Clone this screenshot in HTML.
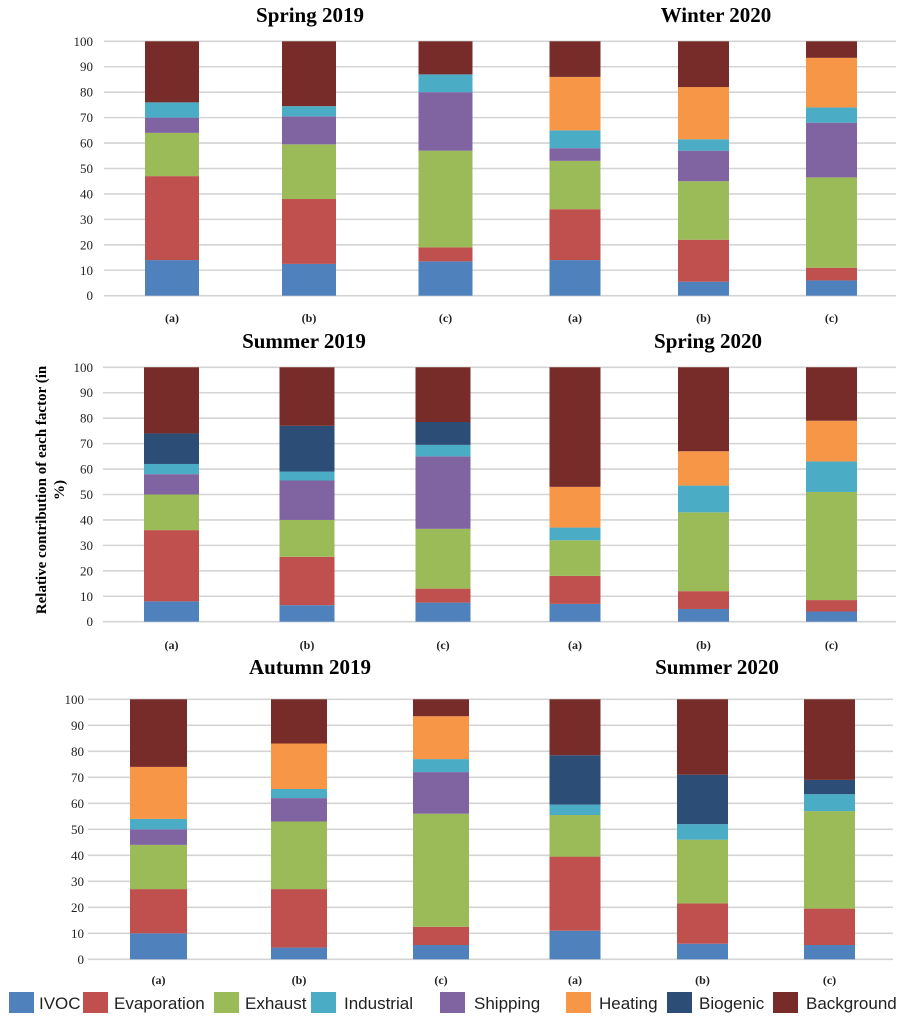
<!DOCTYPE html>
<html><head><meta charset="utf-8"><style>
html,body{margin:0;padding:0;background:#fff;}
svg{display:block;}
.t{font-family:"Liberation Serif",serif;font-weight:bold;font-size:21px;fill:#000;}
.tk{font-family:"Liberation Serif",serif;font-size:13px;fill:#222;}
.cl{font-family:"Liberation Serif",serif;font-weight:bold;font-size:12px;fill:#222;}
.lg{font-family:"Liberation Sans",sans-serif;font-size:17px;fill:#222;}
</style></head><body>
<svg id="chart" width="906" height="1023" viewBox="0 0 906 1023" xmlns="http://www.w3.org/2000/svg">
<text class="t" x="310" y="22" text-anchor="middle">Spring 2019</text>
<text class="t" x="716" y="22" text-anchor="middle">Winter 2020</text>
<text class="t" x="304" y="348" text-anchor="middle">Summer 2019</text>
<text class="t" x="708" y="348" text-anchor="middle">Spring 2020</text>
<text class="t" x="310" y="674" text-anchor="middle">Autumn 2019</text>
<text class="t" x="717" y="674" text-anchor="middle">Summer 2020</text>
<g transform="translate(46,490) rotate(-90)">
<text class="t" style="font-size:15px" x="0" y="0" text-anchor="middle">Relative contribution of each factor (in</text>
<text class="t" style="font-size:15px" x="0" y="18" text-anchor="middle">%)</text>
</g>
<g id="plots"></g>
<g id="legend"></g>
</svg>
<script>
const categories = ['(a)','(b)','(c)','(a)','(b)','(c)'];
const seriesNames = ['IVOC','Evaporation','Exhaust','Shipping','Industrial','Heating','Biogenic','Background'];
// values per panel-major order: panel1 (6 bars), panel2 (6 bars), panel3 (6 bars)
const ivoc        = [14,12.5,13.5,14,5.5,6,    8,6.5,7.5,7,5,4,        10,4.5,5.5,11,6,5.5];
const evaporation = [33,25.5,5.5,20,16.5,5,    28,19,5.5,11,7,4.5,     17,22.5,7,28.5,15.5,14];
const exhaust     = [17,21.5,38,19,23,35.5,    14,14.5,23.5,14,31,42.5, 17,26,43.5,16,24.5,37.5];
const shipping    = [6,11,23,5,12,21.5,        8,15.5,28.5,0,0,0,      6,9,16,0,0,0];
const industrial  = [6,4,7,7,4.5,6,            4,3.5,4.5,5,10.5,12,    4,3.5,5,4,6,6.5];
const heating     = [0,0,0,21,20.5,19.5,       0,0,0,16,13.5,16,       20,17.5,16.5,0,0,0];
const biogenic    = [0,0,0,0,0,0,              12,18,9,0,0,0,          0,0,0,19,19,5.5];
const background  = [24,25.5,13,14,18,6.5,     26,23,21.5,47,33,21,    26,17,6.5,21.5,29,31];
const yTicks = [0,10,20,30,40,50,60,70,80,90,100];
const legendLabels = ['IVOC','Evaporation','Exhaust','Industrial','Shipping','Heating','Biogenic','Background'];

const colors = {IVOC:'#4f81bd',Evaporation:'#c0504d',Exhaust:'#9bbb59',Shipping:'#8064a2',Industrial:'#4bacc6',Heating:'#f79646',Biogenic:'#2c4d75',Background:'#772c2a'};
const allSeries = [ivoc,evaporation,exhaust,shipping,industrial,heating,biogenic,background];
const NS='http://www.w3.org/2000/svg';
const panels = [
 {y0:295.7,y100:41.3,gx0:104,gx1:896,tickX:93,labY:322,centers:[172,309,445.5,575,703.5,831.5],bw:[54,54,54,51,51,51]},
 {y0:621.7,y100:367.3,gx0:103,gx1:896,tickX:93,labY:649,centers:[171.5,307,443,575,703.5,831.5],bw:[55,55,55,51,51,51]},
 {y0:959.3,y100:699.3,gx0:88,gx1:893,tickX:84,labY:984,centers:[158.5,299,441,575,702.5,829.5],bw:[57,56,56,51,51,51]}
];
function mk(tag,attrs,parent){const e=document.createElementNS(NS,tag);for(const k in attrs)e.setAttribute(k,attrs[k]);parent.appendChild(e);return e;}
const plots=document.getElementById('plots');
panels.forEach((p,pi)=>{
 const g=mk('g',{},plots);
 
 
 const ys=v=>p.y0+(p.y100-p.y0)*v/100;
 yTicks.forEach(t=>{
  const l=mk('line',{x1:p.gx0,x2:p.gx1,y1:ys(t),y2:ys(t),stroke:'#d4d4d4','stroke-width':1.6},g);
  
  
  const tx=mk('text',{x:p.tickX,y:ys(t)+4.5,'text-anchor':'end',class:'tk'},g);
  tx.textContent=t;
  
  
 });
 categories.forEach((c,ci)=>{
  const idx=pi*6+ci;
  let cum=0;
  const cx=p.centers[ci], w=p.bw[ci];
  allSeries.forEach((arr,si)=>{
   const v=arr[idx];
   if(v>0){
    const r=mk('rect',{x:cx-w/2,y:ys(cum+v),width:w,height:ys(cum)-ys(cum+v),fill:colors[seriesNames[si]]},g);
    
    
   }
   cum+=v;
  });
  const lt=mk('text',{x:cx,y:p.labY,'text-anchor':'middle',class:'cl'},g);
  lt.textContent=c;
  
  
 });
});
const legend=document.getElementById('legend');
const lx=[9,83,214,311,440,566,667,773];
const tx0=[39,114,245,344,474,599,699,806];
legendLabels.forEach((n,i)=>{
 const r=mk('rect',{x:lx[i],y:992,width:25,height:21,fill:colors[n]},legend);
 
 
 const t=mk('text',{x:tx0[i],y:1009,class:'lg'},legend);
 t.textContent=n;
 
 
});
</script>
</body></html>
